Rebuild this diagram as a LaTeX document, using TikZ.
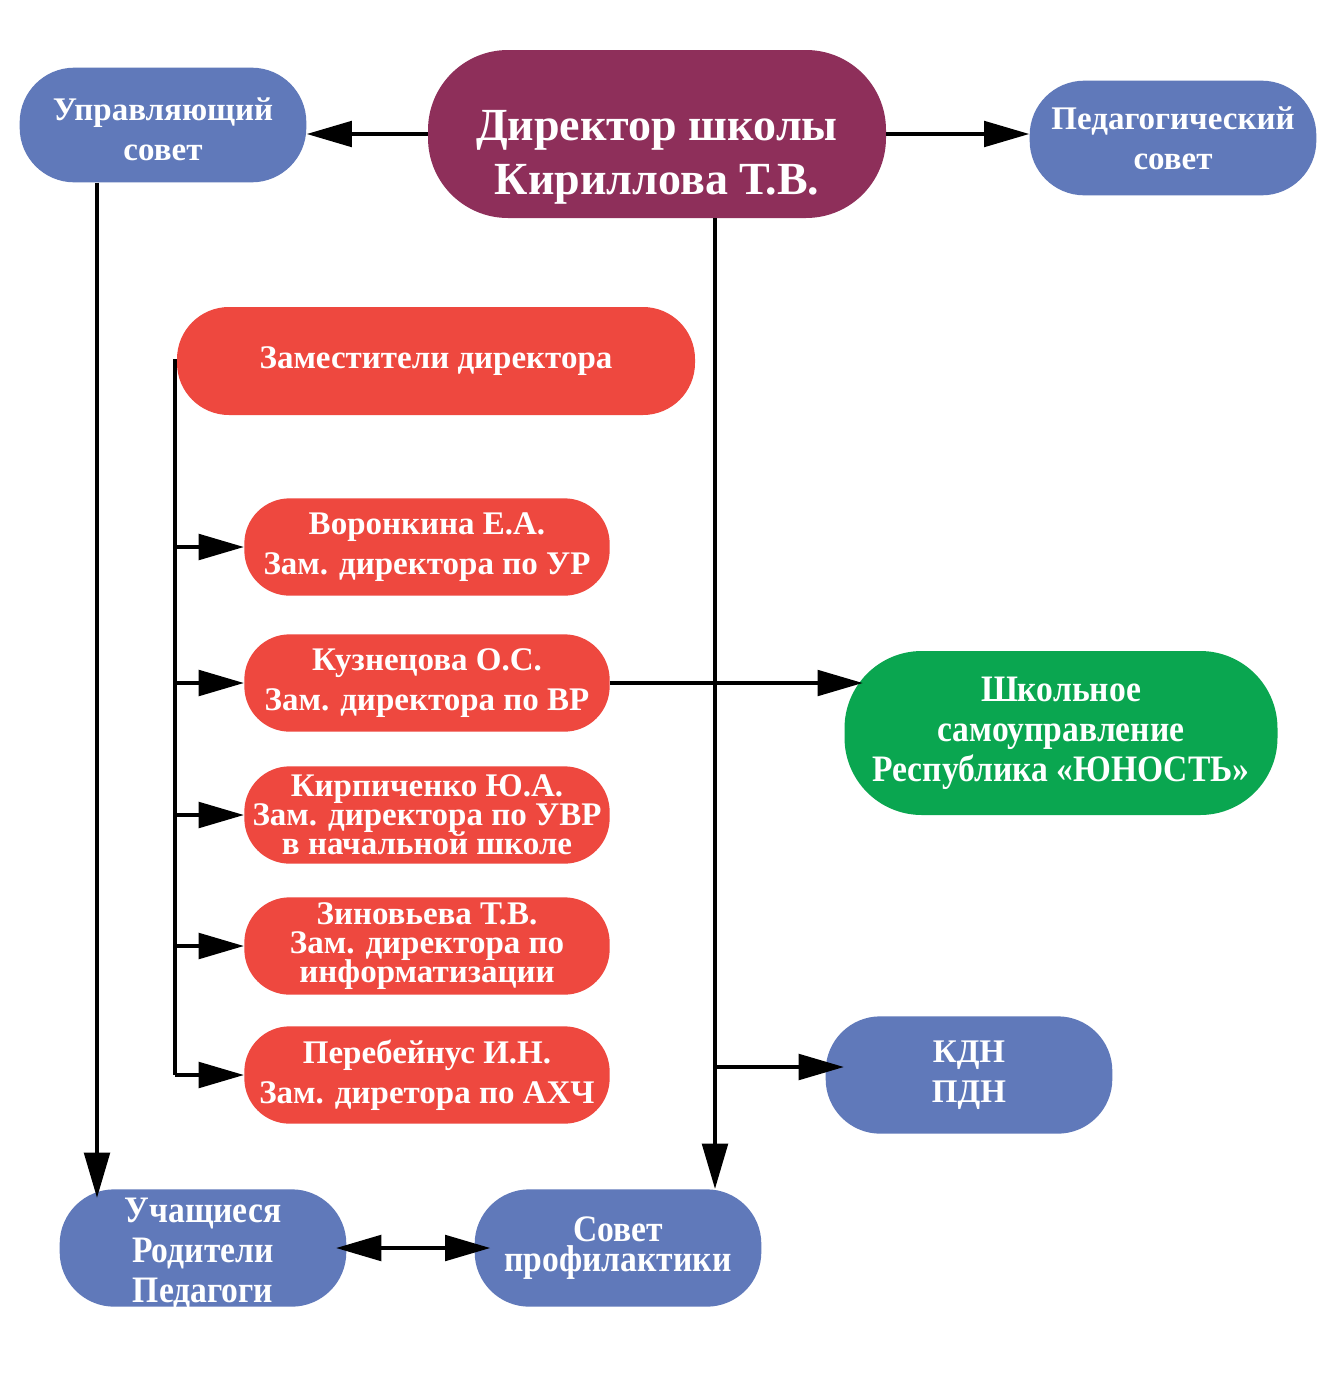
\documentclass[tikz,border=0pt]{standalone}
\usepackage{fontspec}
\setmainfont{Liberation Serif}
\newfontfamily\condfont[FakeStretch=0.9]{Liberation Serif}
\usetikzlibrary{arrows.meta}
\definecolor{cblue}{RGB}{96,121,186}
\definecolor{cmaroon}{RGB}{142,47,90}
\definecolor{cred}{RGB}{238,72,63}
\definecolor{cgreen}{RGB}{10,166,80}
\newcommand\negls{\lineskiplimit=-100pt\relax}
\newcommand\lowtext[2]{\raisebox{#1}[0pt][0pt]{\begin{tabular}{@{}c@{}}#2\end{tabular}}}
\begin{document}
\begin{tikzpicture}[x=0.75pt,y=-0.75pt,
  box/.style={rectangle, inner sep=0pt, text=white, align=center,
    font={\bfseries\fontsize{24.75pt}{30pt}\selectfont}},
  bluebox/.style={box, fill=cblue, minimum width=215pt, minimum height=86pt, rounded corners=41pt},
  redbox/.style={box, fill=cred, minimum width=274pt, minimum height=73pt, rounded corners=34pt},
  tightfont/.style={font={\bfseries\fontsize{24.75pt}{21.75pt}\selectfont\negls}},
  condtxt/.style={font={\condfont\bfseries\fontsize{28pt}{30pt}\selectfont}},
  conn/.style={line width=3.2pt, line join=miter},
  arr/.style={conn, -{Triangle[length=34pt,width=19pt]}},
  darr/.style={conn, {Triangle[length=34pt,width=19pt]}-{Triangle[length=34pt,width=19pt]}}
]
\fill[white] (0,0) rectangle (1338,1389);
\useasboundingbox (0,0) rectangle (1338,1389);

\node[bluebox] (upr) at (163,125) {\lowtext{-12.2pt}{Управляющий\\совет}};
\node[box, fill=cmaroon, minimum width=343.5pt, minimum height=126pt, rounded corners=60pt,
  font={\bfseries\fontsize{34.5pt}{40.5pt}\selectfont}] (dir) at (657,134)
  {\lowtext{-22.9pt}{Директор школы\\Кириллова Т.В.}};
\node[bluebox] (ped) at (1173,138) {Педагогический\\совет};
\node[box, fill=cred, minimum width=388.5pt, minimum height=81pt, rounded corners=39pt] (zam) at (436,361) {Заместители директора};
\node[redbox] (vor) at (427,547) {Воронкина Е.А.\\Зам. директора по УР};
\node[redbox] (kuz) at (427,683) {Кузнецова О.С.\\Зам. директора по ВР};
\node[redbox, tightfont] (kir) at (427,815) {Кирпиченко Ю.А.\\Зам. директора по УВР\\в начальной школе};
\node[redbox, tightfont] (zin) at (427,946) {Зиновьева Т.В.\\Зам. директора по\\информатизации};
\node[redbox] (per) at (427,1075) {Перебейнус И.Н.\\Зам. диретора по АХЧ};
\node[box, fill=cgreen, minimum width=324.75pt, minimum height=123pt, rounded corners=58pt, condtxt] (shk) at (1061,733) {Школьное\\самоуправление\\Республика «ЮНОСТЬ»};
\node[bluebox, minimum height=88pt] (kdn) at (969,1075) {КДН\\ПДН};
\node[bluebox, minimum height=88pt, condtxt] (uch) at (203,1248) {\lowtext{-10.75pt}{Учащиеся\\Родители\\Педагоги}};
\node[bluebox, minimum height=88pt, font={\condfont\bfseries\fontsize{28pt}{22.5pt}\selectfont\negls}] (sov) at (618,1248) {Совет\\профилактики};

\coordinate (bx) at (175,0);
\coordinate (c97) at (97,1198);
\coordinate (c715) at (715,0);
\coordinate (kbr) at (717,1067);

\draw[arr] (dir.west) -- (dir.west -| upr.east);
\draw[arr] (dir.east) -- (dir.east -| ped.west);
\draw[arr] (upr.south -| c97) -- (c97);
\draw[arr] (dir.south -| c715) -- (sov.north -| c715);
\draw[arr, shorten >=-14pt] (kbr) -- (kbr -| kdn.west);
\draw[arr, shorten >=-14pt] (kuz.east) -- (kuz.east -| shk.west);
\draw[conn] (zam.west) -- (zam.west -| bx) -- (bx |- per.west);
\foreach \n in {vor,kuz,kir,zin,per} \draw[arr] (bx |- \n.west) -- (\n.west);
\draw[darr, shorten <=-8pt, shorten >=-12pt] (uch.east) -- (sov.west);
\end{tikzpicture}
\end{document}
